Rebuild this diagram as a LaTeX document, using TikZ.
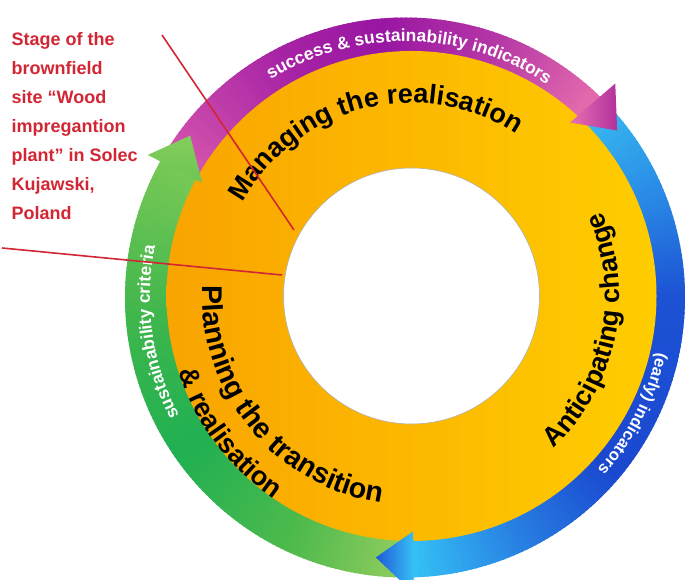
\documentclass[tikz,border=0pt]{standalone}
\usepackage{fontspec}
\setmainfont{Liberation Sans}
\usetikzlibrary{decorations.text}

% band colours
\definecolor{pkA}{RGB}{214,86,172}
\definecolor{puA}{RGB}{168,36,166}
\definecolor{puB}{RGB}{152,22,162}
\definecolor{puC}{RGB}{182,56,166}
\definecolor{pkB}{RGB}{228,108,172}
\definecolor{cyA}{RGB}{56,190,242}
\definecolor{blA}{RGB}{40,132,228}
\definecolor{blB}{RGB}{28,82,212}
\definecolor{blC}{RGB}{26,72,208}
\definecolor{blD}{RGB}{40,128,226}
\definecolor{cyB}{RGB}{52,192,245}
\definecolor{grA}{RGB}{150,206,96}
\definecolor{grB}{RGB}{78,186,76}
\definecolor{grC}{RGB}{32,176,82}
\definecolor{grD}{RGB}{62,182,76}
\definecolor{grE}{RGB}{120,200,86}
% arrow heads
\definecolor{pheadL}{RGB}{232,112,176}
\definecolor{pheadR}{RGB}{178,48,156}
\definecolor{bheadL}{RGB}{30,90,215}
\definecolor{bheadR}{RGB}{56,192,245}
\definecolor{gheadT}{RGB}{132,206,92}
\definecolor{gheadB}{RGB}{108,196,84}
% inner ring and callout
\definecolor{ringL}{RGB}{249,164,0}
\definecolor{ringR}{RGB}{255,205,0}
\definecolor{callred}{RGB}{210,38,52}

\def\bandout{280}
\def\bandin{228}
\newcommand{\ringfont}{\fontsize{27}{29}\selectfont\bfseries}
\newcommand{\planfont}{\fontsize{28.5}{30}\selectfont\bfseries}
\newcommand{\bandfont}{\fontsize{17.5}{19}\selectfont\bfseries}
\newcommand{\smallbandfont}{\fontsize{16.5}{18}\selectfont\bfseries}

% annular band from angle #1 to #2 around C1, colour blending #3 -> #4
\newcommand{\bandpiece}[4]{%
  \pgfmathtruncatemacro{\bpn}{max(1,round(abs(#2-#1)))}%
  \foreach \bpi in {1,...,\bpn}{%
    \pgfmathsetmacro{\bpa}{#1+(#2-#1)*(\bpi-1)/\bpn}%
    \pgfmathsetmacro{\bpb}{#1+(#2-#1)*(\bpi+0.5)/\bpn}%
    \pgfmathtruncatemacro{\bpp}{round(100*(\bpi-0.5)/\bpn)}%
    \fill[#4!\bpp!#3, shift={(C1)}] (\bpa:\bandout)
      arc[start angle=\bpa, end angle=\bpb, radius=\bandout]
      -- (\bpb:\bandin)
      arc[start angle=\bpb, end angle=\bpa, radius=\bandin] -- cycle;
  }%
}

\begin{document}
\begin{tikzpicture}[x=1pt,y=1pt,
  callline/.style={draw=callred, line width=1.6pt},
  ringtext/.style={decorate, decoration={text along path, text align=center}},
]
\useasboundingbox (0,0) rectangle (686,580);
\clip (0,0) rectangle (686,580);
\fill[white] (0,0) rectangle (686,580);

\coordinate (C1) at (405,282.5);
\coordinate (C2) at (411.5,284);

% outer bands: green, blue, purple
\bandpiece{272}{245}{grA}{grB}
\bandpiece{245}{215}{grB}{grC}
\bandpiece{215}{185}{grC}{grD}
\bandpiece{185}{150.5}{grD}{grE}

\bandpiece{46}{20}{cyA}{blA}
\bandpiece{20}{0}{blA}{blB}
\bandpiece{0}{-40}{blB}{blC}
\bandpiece{-40}{-65}{blC}{blD}
\bandpiece{-65}{-88}{blD}{cyB}

\bandpiece{150}{118}{pkA}{puA}
\bandpiece{118}{95}{puA}{puB}
\bandpiece{95}{70}{puB}{puC}
\bandpiece{70}{46}{puC}{pkB}

% inner ring
\shade[left color=ringL, right color=ringR, even odd rule]
  (C2) circle[radius=245] (C2) circle[radius=128];
\draw[black!30, line width=0.6pt] (C2) circle[radius=128];

% arrow heads
\shade[shift={(C1)}, top color=gheadT, bottom color=gheadB]
  (151:294) -- (143:269) -- (150.5:233) -- cycle;
\shade[shift={(C1)}, left color=pheadL, right color=pheadR]
  (45.5:300) -- (38.2:270) -- (46.7:240.5) -- cycle;
\shade[shift={(C1)}, left color=bheadL, right color=bheadR]
  (-88.3:296) -- (-96.4:261.6) -- (-88:234) -- cycle;

% stage names on the inner ring
\path[shift={(C2)}, ringtext, decoration={text={|\ringfont|Managing the realisation}}]
  (164:193) arc[start angle=164, end angle=44, radius=193];
\path[shift={(C2)}, ringtext, decoration={text={|\ringfont|Anticipating change}}]
  (-71.5:208) arc[start angle=-71.5, end angle=48.5, radius=208];
\path[shift={(C2)}, ringtext, decoration={text={|\planfont|Planning the transition}}]
  (159:209) arc[start angle=159, end angle=280, radius=209];
\path[shift={(C2)}, ringtext, decoration={text={|\ringfont|{\&} realisation}}]
  (157:245) arc[start angle=157, end angle=277, radius=245];

% labels on the outer bands
\path[shift={(C1)}, ringtext, decoration={text color=white, text={|\bandfont|success {\&} sustainability indicators}}]
  (149:256) arc[start angle=149, end angle=29, radius=256];
\path[shift={(C1)}, ringtext, decoration={text color=white, text={|\smallbandfont|(early) indicators}}]
  (33:258) arc[start angle=33, end angle=-87, radius=258];
\path[shift={(C1)}, ringtext, decoration={text color=white, text={|\bandfont|sustainability criteria}}]
  (248:255) arc[start angle=248, end angle=128, radius=255];

% callout
\coordinate (lineAstart) at (162,545);
\coordinate (lineAend) at (294,350);
\coordinate (lineBstart) at (2,332);
\coordinate (lineBend) at (282,305);
\draw[callline] (lineAstart) -- (lineAend);
\draw[callline] (lineBstart) -- (lineBend);

\node[anchor=north west, inner sep=0pt, align=left, text=callred,
  font=\fontsize{18}{29}\selectfont\bfseries] (callout) at (11.5,548)
  {Stage of the\\brownfield\\site “Wood\\impregantion\\plant” in Solec\\Kujawski,\\Poland};
\end{tikzpicture}
\end{document}
